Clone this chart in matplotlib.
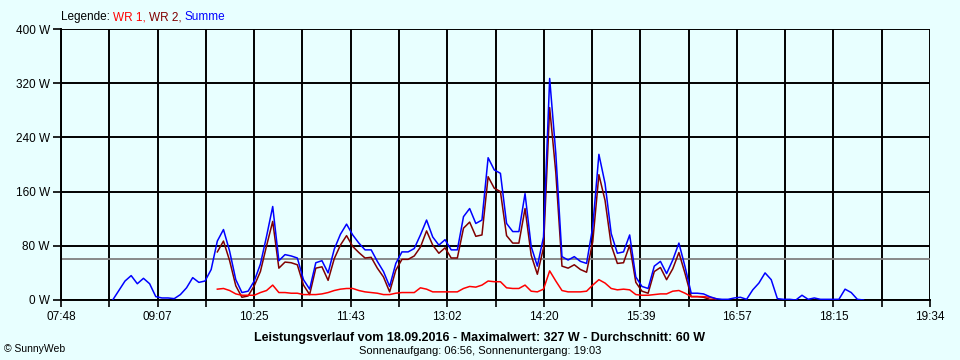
import matplotlib
matplotlib.use("Agg")
import matplotlib.pyplot as plt
import numpy as np

# Werte in W, alle 5 Minuten (Minuten seit Mitternacht)
summe_start = 510
summe = [0, 14, 28, 36, 24, 32, 24, 5, 3, 3, 2, 8, 18, 33, 26, 28, 45, 87, 104, 72,
         30, 11, 13, 28, 53, 94, 138, 58, 67, 65, 62, 30, 16, 55, 58, 40, 75, 97, 112, 96,
         84, 74, 74, 57, 42, 20, 54, 71, 71, 76, 96, 118, 93, 81, 89, 74, 74, 123, 135, 113,
         118, 210, 192, 187, 113, 101, 101, 157, 79, 50, 93, 327, 216, 64, 59, 64, 57, 54, 108, 215,
         172, 98, 69, 71, 96, 34, 20, 17, 50, 57, 39, 59, 84, 49, 10, 10, 9, 5, 2, 1,
         1, 3, 4, 1, 15, 25, 40, 30, 2, 1, 1, 0, 7, 1, 3, 1, 1, 1, 1, 16,
         11, 1, 0]

wr_start = 595
wr1 = [16, 17, 14, 9, 7, 7, 7, 11, 14, 22, 11, 11, 10, 10, 8, 8, 8, 9, 11, 14,
       16, 17, 17, 14, 12, 11, 10, 8, 8, 10, 11, 11, 11, 18, 16, 12, 12, 12, 12, 12,
       17, 20, 19, 22, 28, 27, 27, 18, 17, 17, 22, 13, 12, 16, 43, 28, 14, 12, 12, 12,
       13, 22, 30, 25, 17, 15, 16, 15, 8, 7, 7, 8, 9, 9, 13, 14, 10, 5, 5, 5,
       4, 2]
wr2 = [71, 87, 58, 21, 4, 6, 21, 42, 80, 116, 47, 56, 55, 52, 22, 8, 47, 49, 29, 61,
       81, 95, 79, 70, 62, 63, 47, 34, 12, 44, 60, 60, 65, 78, 102, 81, 69, 77, 62, 62,
       106, 115, 94, 96, 182, 165, 160, 95, 84, 84, 135, 66, 38, 77, 284, 188, 50, 47, 52, 45,
       41, 86, 185, 147, 81, 54, 55, 81, 26, 13, 10, 42, 48, 30, 46, 70, 39, 5, 5, 4,
       1, 0]

durchschnitt = 60
y_ticks = [0, 80, 160, 240, 320, 400]
x_labels = ["07:48", "09:07", "10:25", "11:43", "13:02", "14:20", "15:39", "16:57", "18:15", "19:34"]
t_min, t_max = 468, 1174

bg = "#E8FFFF"
plt.rcParams['font.family'] = ['Liberation Sans Narrow', 'Liberation Sans', 'DejaVu Sans']

fig = plt.figure(figsize=(9.6, 3.6), dpi=100, facecolor=bg)
ax = fig.add_axes([61 / 960, 1 - 300 / 360, 869 / 960, 271 / 360])
ax.set_facecolor(bg)

t_sum = summe_start + 5 * np.arange(len(summe))
t_wr = wr_start + 5 * np.arange(len(wr1))

ax.axhline(durchschnitt, color="#808080", lw=1.3, zorder=2)
ax.plot(t_wr, wr2, color="#800000", lw=1.1, zorder=3)
ax.plot(t_wr, wr1, color="#FF0000", lw=1.1, zorder=4)
ax.plot(t_sum, summe, color="#0000FF", lw=1.1, zorder=5)

ax.set_xlim(t_min, t_max)
ax.set_ylim(0, 400)
ax.set_xticks(np.linspace(t_min, t_max, 19))
ax.set_xticklabels([lab if i % 2 == 0 else "" for i, lab in
                    enumerate([x_labels[i // 2] if i % 2 == 0 else "" for i in range(19)])])
ax.set_yticks(y_ticks)
ax.set_yticklabels([f"{v} W" for v in y_ticks])
ax.grid(True, color="black", lw=1.4, zorder=1)
ax.set_axisbelow(True)
for s in ["top", "right"]:
    ax.spines[s].set_visible(False)
for s in ["left", "bottom"]:
    ax.spines[s].set_linewidth(1.4)
ax.tick_params(axis="x", length=5, width=1.2, labelsize=8.5, pad=3)
ax.tick_params(axis="y", length=6, width=1.2, labelsize=8.5, pad=2)

# Legende oben links
y_leg = 1 - 17 / 360
parts = [("Legende: ", "black"), ("WR 1, ", "#FF0000"), ("WR 2, ", "#800000"), ("Summe", "#0000FF")]
x = 61 / 960
renderer = fig.canvas.get_renderer()
for txt, col in parts:
    t = fig.text(x, y_leg, txt, color=col, fontsize=8.5, va="center", ha="left")
    bb = t.get_window_extent(renderer=renderer)
    x += bb.width / 960

fig.text(0.5, 1 - 338 / 360, "Leistungsverlauf vom 18.09.2016 - Maximalwert: 327 W - Durchschnitt: 60 W",
         ha="center", va="center", fontsize=9, fontweight="bold")
fig.text(0.5, 1 - 351 / 360, "Sonnenaufgang: 06:56, Sonnenuntergang: 19:03",
         ha="center", va="center", fontsize=8)
fig.text(4 / 960, 1 - 349 / 360, "© SunnyWeb", ha="left", va="center", fontsize=7.5)

fig.savefig("out.png", dpi=100, facecolor=bg)
